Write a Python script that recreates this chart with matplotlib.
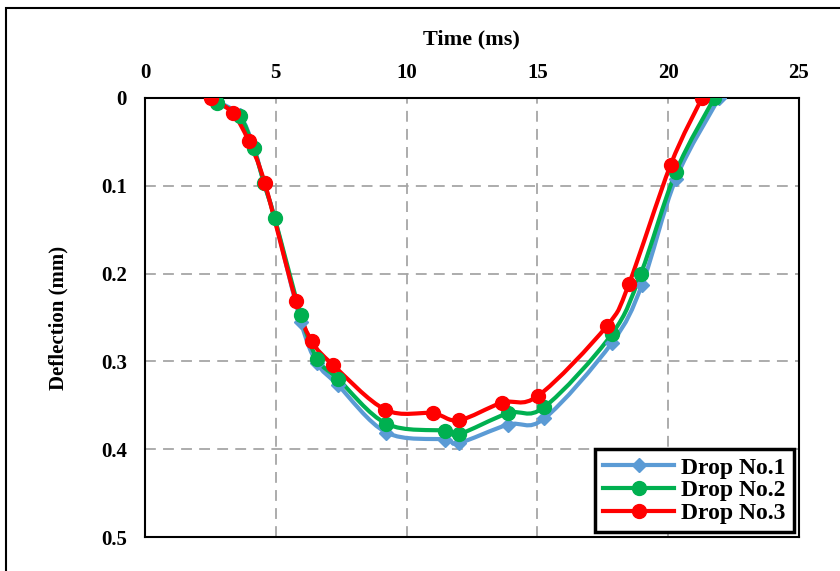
import numpy as np
import matplotlib
matplotlib.use("Agg")
from matplotlib import pyplot as plt
from matplotlib.path import Path
from matplotlib.patches import PathPatch, Rectangle
from matplotlib.lines import Line2D

# values (time in ms, deflection in mm)
t_drop1 = [2.77, 3.62, 4.15, 4.55, 4.96, 5.96, 6.58, 7.38, 9.23, 11.46, 12.0, 13.88, 15.27, 17.85, 19.0, 20.3, 21.95]
d_drop1 = [0.004, 0.020, 0.055, 0.097, 0.137, 0.255, 0.302, 0.327, 0.381, 0.389, 0.393, 0.372, 0.365, 0.279, 0.213, 0.092, 0.0]

t_drop2 = [2.77, 3.62, 4.15, 4.55, 4.96, 5.96, 6.58, 7.38, 9.23, 11.46, 12.0, 13.88, 15.27, 17.85, 18.96, 20.3, 21.77]
d_drop2 = [0.006, 0.021, 0.057, 0.097, 0.137, 0.247, 0.297, 0.320, 0.371, 0.379, 0.383, 0.359, 0.352, 0.269, 0.200, 0.084, 0.0]

t_drop3 = [2.54, 3.35, 3.96, 4.58, 5.77, 6.38, 7.19, 9.19, 11.0, 12.0, 13.65, 15.04, 17.65, 18.5, 20.1, 21.3]
d_drop3 = [0.0, 0.017, 0.049, 0.097, 0.231, 0.277, 0.304, 0.355, 0.359, 0.367, 0.347, 0.339, 0.260, 0.212, 0.076, 0.0]

labels = ["Drop No.1", "Drop No.2", "Drop No.3"]
colors = ["#5B9BD5", "#00B050", "#FF0000"]
markers = ["D", "o", "o"]
msizes = [7, 10, 10]

plt.rcParams["font.family"] = ["Liberation Serif", "DejaVu Serif"]
plt.rcParams["font.weight"] = "bold"


def smooth_path(x, y, k=1 / 6):
    # Excel-style smoothed line: cubic Bezier segments, Catmull-Rom control points
    pts = np.column_stack([x, y])
    verts = [pts[0]]
    codes = [Path.MOVETO]
    n = len(pts)
    for i in range(n - 1):
        p0 = pts[max(i - 1, 0)]
        p1 = pts[i]
        p2 = pts[i + 1]
        p3 = pts[min(i + 2, n - 1)]
        verts += [p1 + (p2 - p0) * k, p2 - (p3 - p1) * k, p2]
        codes += [Path.CURVE4] * 3
    return Path(verts, codes)


fig = plt.figure(figsize=(8.4, 5.71), dpi=100)
ax = fig.add_axes([0.1726, 0.0595, 0.7784, 0.769])

series = [(t_drop1, d_drop1), (t_drop2, d_drop2), (t_drop3, d_drop3)]
handles = []
for (t, d), lab, c, m, ms in zip(series, labels, colors, markers, msizes):
    ax.add_patch(PathPatch(smooth_path(t, d), facecolor="none", edgecolor=c, lw=3, zorder=3))
    ax.plot(t, d, linestyle="none", marker=m, ms=ms, color=c, zorder=4)
    handles.append(Line2D([], [], color=c, lw=3, marker=m, ms=ms, label=lab))

ax.set_xlim(0, 25)
ax.set_ylim(0.5, 0)
ax.set_xticks([0, 5, 10, 15, 20, 25])
ax.set_yticks([0, 0.1, 0.2, 0.3, 0.4, 0.5])
ax.set_yticklabels(["0", "0.1", "0.2", "0.3", "0.4", "0.5"])
ax.xaxis.tick_top()
ax.xaxis.set_label_position("top")
ax.tick_params(length=0, labelsize=15, pad=11)
ax.tick_params(axis="y", pad=13)
for lab in ax.get_xticklabels() + ax.get_yticklabels():
    lab.set_fontweight("bold")

ax.set_xlabel("Time (ms)", fontsize=16, fontweight="bold", labelpad=13)
ax.set_ylabel("Deflection (mm)", fontsize=15, fontweight="bold", labelpad=23)

ax.grid(True, color="#A6A6A6", linestyle=(0, (6, 4)), lw=1.3)
for s in ax.spines.values():
    s.set_color("black")
    s.set_linewidth(1.5)

leg = ax.legend(handles=handles, loc="lower right", frameon=True, fancybox=False,
                borderaxespad=0.2, handlelength=3.0, labelspacing=0.05, borderpad=0.35,
                handletextpad=0.3, prop={"weight": "bold", "size": 17})
leg.get_frame().set_edgecolor("black")
leg.get_frame().set_linewidth(2.5)
leg.get_frame().set_alpha(1)

fig.add_artist(Rectangle((6 / 840, -0.01), 1, 1 - 8 / 571 + 0.01, transform=fig.transFigure,
                         fill=False, edgecolor="black", lw=1.5))

fig.savefig("out.png", dpi=100)
